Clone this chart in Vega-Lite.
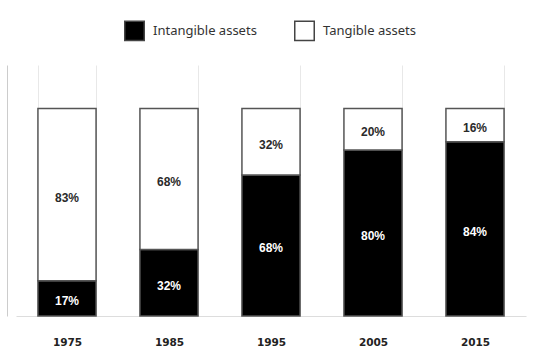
{
  "$schema": "https://vega.github.io/schema/vega-lite/v6.json",
  "width": 510,
  "height": 251,
  "autosize": "none",
  "padding": {"left": 16, "top": 65, "right": 30, "bottom": 34},
  "background": "white",
  "config": {"view": {"stroke": null}},
  "data": {
    "values": [
      {"year": "1975", "type": "Intangible assets", "value": 17},
      {"year": "1975", "type": "Tangible assets", "value": 83},
      {"year": "1985", "type": "Intangible assets", "value": 32},
      {"year": "1985", "type": "Tangible assets", "value": 68},
      {"year": "1995", "type": "Intangible assets", "value": 68},
      {"year": "1995", "type": "Tangible assets", "value": 32},
      {"year": "2005", "type": "Intangible assets", "value": 80},
      {"year": "2005", "type": "Tangible assets", "value": 20},
      {"year": "2015", "type": "Intangible assets", "value": 84},
      {"year": "2015", "type": "Tangible assets", "value": 16}
    ]
  },
  "transform": [
    {"stack": "value", "groupby": ["year"], "sort": [{"field": "type", "order": "ascending"}], "as": ["v0", "v1"]},
    {"calculate": "(datum.v0 + datum.v1) / 2", "as": "mid"},
    {"calculate": "datum.value + '%'", "as": "label"}
  ],
  "encoding": {
    "x": {
      "field": "year",
      "type": "nominal",
      "scale": {"paddingInner": 0.43, "paddingOuter": 0.215},
      "axis": {
        "title": null,
        "labelAngle": 0,
        "ticks": false,
        "tickBand": "extent",
        "grid": true,
        "gridColor": "#e8e8e8",
        "gridWidth": 1,
        "domainColor": "#dddddd",
        "labelFont": "DejaVu Sans",
        "labelFontWeight": "bold",
        "labelFontSize": 10.5,
        "labelColor": "#222222",
        "labelPadding": 21
      }
    }
  },
  "layer": [
    {
      "mark": {"type": "bar", "stroke": "#555555", "strokeWidth": 1.5},
      "encoding": {
        "y": {
          "field": "v0",
          "type": "quantitative",
          "scale": {"domain": [0, 121], "nice": false},
          "axis": {"title": null, "labels": false, "ticks": false, "grid": false, "domainColor": "#cccccc", "offset": 9}
        },
        "y2": {"field": "v1"},
        "fill": {
          "field": "type",
          "type": "nominal",
          "scale": {"domain": ["Intangible assets", "Tangible assets"], "range": ["#000000", "#ffffff"]},
          "legend": {
            "title": null,
            "orient": "none",
            "legendX": 108,
            "legendY": -45,
            "direction": "horizontal",
            "symbolType": "square",
            "symbolSize": 380,
            "symbolStrokeColor": "#444444",
            "symbolStrokeWidth": 1.5,
            "labelFont": "Noto Sans",
            "labelFontSize": 13,
            "labelColor": "#333333",
            "labelOffset": 8,
            "columnPadding": 34
          }
        }
      }
    },
    {
      "mark": {"type": "text", "font": "Liberation Sans", "fontWeight": "bold", "fontSize": 12, "baseline": "middle", "dy": 3},
      "encoding": {
        "y": {"field": "mid", "type": "quantitative"},
        "text": {"field": "label"},
        "color": {
          "field": "type",
          "type": "nominal",
          "scale": {"domain": ["Intangible assets", "Tangible assets"], "range": ["#ffffff", "#2a2a2a"]},
          "legend": null
        }
      }
    }
  ]
}
